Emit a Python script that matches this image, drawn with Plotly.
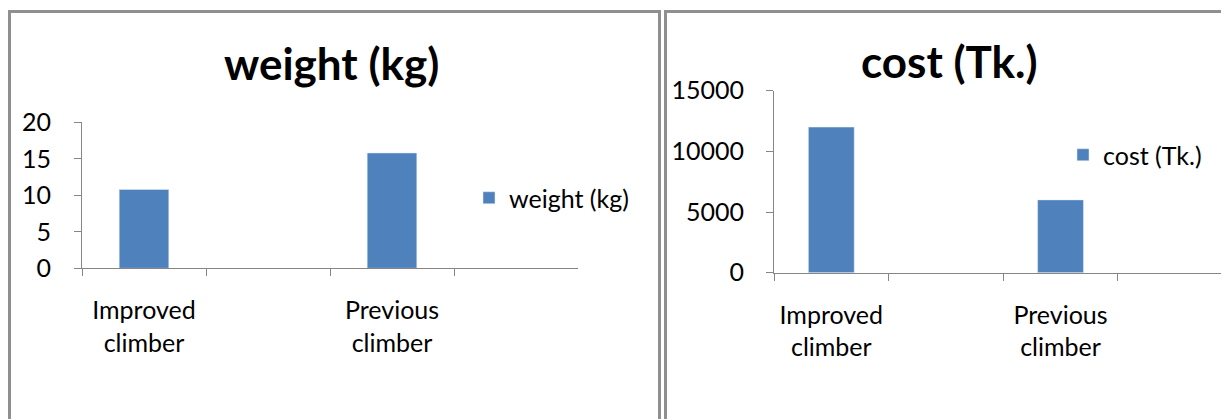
import plotly.graph_objects as go

# ---- data ----
categories = ["Improved<br>climber", " ", "Previous<br>climber", "  "]
weight_kg = [10.8, None, 15.8, None]
cost_tk = [12000, None, 6000, None]
weight_title = "weight (kg)"
cost_title = "cost (Tk.)"
weight_ticks = [0, 5, 10, 15, 20]
cost_ticks = [0, 5000, 10000, 15000]

OFF = 8  # default body margin of the page
W, H = 1229 - OFF, 419 - OFF
BAR = "#4F81BD"
AX = "#868686"
FONT = "Lato, 'Open Sans', sans-serif"
FS = 25

def px(x):
    return (x - OFF) / W

def py(y):
    return (H - (y - OFF)) / H

fig = go.Figure()
fig.add_trace(go.Bar(x=categories, y=weight_kg, name=weight_title, marker_color=BAR,
                     xaxis="x", yaxis="y", legend="legend", showlegend=True))
fig.add_trace(go.Bar(x=categories, y=cost_tk, name=cost_title, marker_color=BAR,
                     xaxis="x2", yaxis="y2", legend="legend2", showlegend=True))

axis_common = dict(showline=True, linecolor=AX, linewidth=1, ticks="outside",
                   tickcolor=AX, ticklen=7, tickwidth=1, showgrid=False, zeroline=False,
                   automargin=False,
                   tickfont=dict(family=FONT, size=FS, color="#000"))

fig.update_layout(
    width=W, height=H,
    margin=dict(l=0, r=0, t=0, b=0, pad=0, autoexpand=False),
    paper_bgcolor="white", plot_bgcolor="white",
    bargap=0.6,
    font=dict(family=FONT, color="#000"),
    xaxis=dict(domain=[px(82), px(578)], anchor="y", type="category",
               categoryorder="array", categoryarray=categories,
               range=[-0.5, 3.5], tickson="boundaries", ticklabelstandoff=20, **axis_common),
    yaxis=dict(domain=[py(268.3), py(122.3)], anchor="x", range=[0, 20],
               tickvals=weight_ticks, ticklabelstandoff=18, **axis_common),
    xaxis2=dict(domain=[px(774), 1.0], anchor="y2", type="category",
                categoryorder="array", categoryarray=categories,
                range=[-0.5, 3.47], tickson="boundaries", ticklabelstandoff=20, **axis_common),
    yaxis2=dict(domain=[py(272.7), py(90.7)], anchor="x2", range=[0, 15000],
                tickvals=cost_ticks, tickformat="d", ticklabelstandoff=17, **axis_common),
    legend=dict(x=px(469), y=py(198), xanchor="left", yanchor="middle",
                bgcolor="rgba(0,0,0,0)", borderwidth=0,
                font=dict(family=FONT, size=FS, color="#000")),
    legend2=dict(x=px(1063), y=py(155), xanchor="left", yanchor="middle",
                 bgcolor="rgba(0,0,0,0)", borderwidth=0,
                 font=dict(family=FONT, size=FS, color="#000")),
    annotations=[
        dict(text="<b>" + weight_title + "</b>", x=px(332), y=py(63), xref="paper", yref="paper",
             xanchor="center", yanchor="middle", showarrow=False,
             font=dict(family=FONT, size=44, color="#000")),
        dict(text="<b>" + cost_title + "</b>", x=px(949), y=py(61), xref="paper", yref="paper",
             xanchor="center", yanchor="middle", showarrow=False,
             font=dict(family=FONT, size=44, color="#000")),
    ],
    shapes=[
        dict(type="rect", xref="paper", yref="paper", x0=px(9.5), x1=px(659.5),
             y0=-0.1, y1=py(11.5), line=dict(color="#8f8f8f", width=3), fillcolor="rgba(0,0,0,0)"),
        dict(type="rect", xref="paper", yref="paper", x0=px(665.5), x1=1.1,
             y0=-0.1, y1=py(11.5), line=dict(color="#8f8f8f", width=3), fillcolor="rgba(0,0,0,0)"),
    ],
)

fig.write_html("out.html")
